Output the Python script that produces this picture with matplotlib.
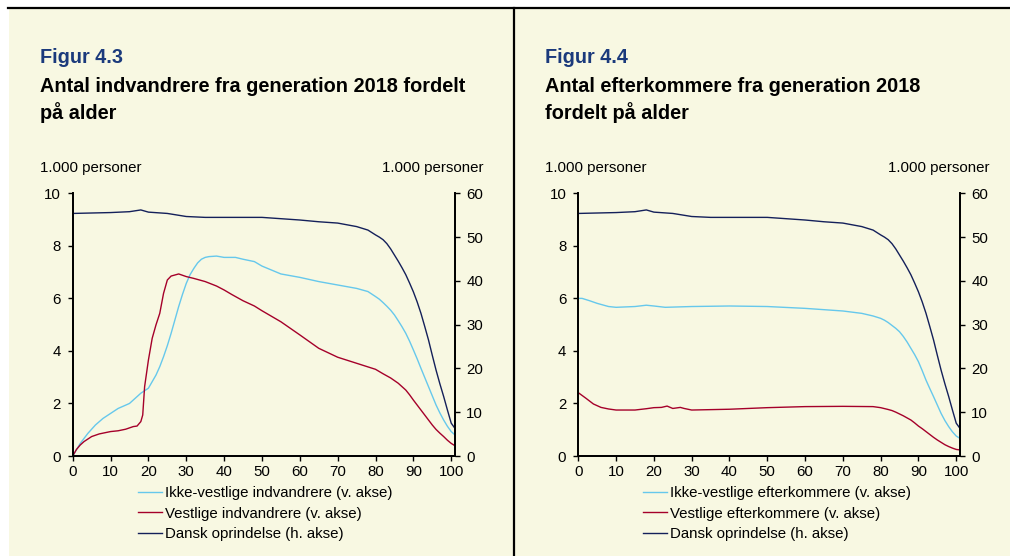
import matplotlib
matplotlib.use("Agg")
import matplotlib.pyplot as plt
from matplotlib.patches import Rectangle
from matplotlib.lines import Line2D

plt.rcParams['font.family'] = ['Liberation Sans', 'DejaVu Sans']

# ---------------- data ----------------
# Dansk oprindelse (right axis, 1.000 personer) - same in both panels
dansk_age = [0, 5, 10, 15, 18, 20, 25, 30, 35, 40, 50, 55, 60, 65, 70, 75, 78, 80, 81, 82, 83, 84, 85, 86, 87, 88, 89, 90,
             91, 92, 93, 94, 95, 96, 97, 98, 99, 100, 101]
dansk_val = [55.4, 55.5, 55.6, 55.8, 56.2, 55.7, 55.4, 54.7, 54.5, 54.5, 54.5, 54.2, 53.9, 53.5, 53.2, 52.4, 51.6, 50.5, 50.0,
             49.4, 48.5, 47.3, 45.9, 44.5, 43.0, 41.4, 39.5, 37.5, 35.2, 32.6, 29.6, 26.5, 23.0, 19.6, 16.5, 13.6, 10.5, 7.5, 6.3]

# Figur 4.3 - indvandrere (left axis)
ikke_ind_age = [0, 2, 4, 6, 8, 10, 12, 15, 16, 18, 20, 22, 23, 24, 25, 26, 27, 28, 29, 30, 31, 32, 33, 34, 35, 36, 38, 40,
                43, 45, 48, 50, 55, 60, 65, 70, 75, 78, 80, 81, 82, 83, 84, 85, 86, 87, 88, 89, 90, 91, 92, 93, 94, 95,
                96, 97, 98, 99, 100, 101]
ikke_ind_val = [0.0, 0.48, 0.86, 1.18, 1.43, 1.62, 1.81, 2.0, 2.13, 2.39, 2.58, 3.08, 3.40, 3.78, 4.20, 4.67, 5.18, 5.69,
                6.15, 6.57, 6.90, 7.14, 7.35, 7.49, 7.56, 7.59, 7.61, 7.56, 7.56, 7.49, 7.40, 7.23, 6.93, 6.80, 6.64, 6.51,
                6.38, 6.26, 6.07, 5.97, 5.84, 5.70, 5.55, 5.37, 5.15, 4.92, 4.67, 4.37, 4.04, 3.70, 3.34, 2.99, 2.64, 2.29,
                1.94, 1.64, 1.37, 1.13, 0.93, 0.80]

vest_ind_age = [0, 1, 2, 3, 5, 7, 10, 12, 14, 16, 17, 18, 18.5, 19, 20, 21, 22, 23, 24, 25, 26, 28, 30, 32, 35, 38, 40, 42,
                45, 48, 50, 55, 60, 65, 70, 75, 80, 82, 84, 86, 88, 89, 90, 91, 92, 93, 94, 95, 96, 97, 98, 99, 100, 101]
vest_ind_val = [0.0, 0.25, 0.42, 0.55, 0.74, 0.84, 0.93, 0.96, 1.02, 1.12, 1.14, 1.31, 1.56, 2.64, 3.65, 4.48, 4.99, 5.43,
                6.19, 6.70, 6.85, 6.93, 6.83, 6.76, 6.64, 6.47, 6.32, 6.15, 5.91, 5.71, 5.53, 5.11, 4.61, 4.10, 3.76, 3.53,
                3.30, 3.13, 2.97, 2.77, 2.51, 2.33, 2.13, 1.94, 1.75, 1.56, 1.37, 1.18, 1.01, 0.87, 0.74, 0.60, 0.48, 0.39]

# Figur 4.4 - efterkommere (left axis)
ikke_eft_age = [0, 1, 3, 5, 8, 10, 15, 18, 20, 23, 30, 40, 50, 60, 70, 75, 78, 80, 81, 82, 83, 84, 85, 86, 87, 88, 89, 90,
                91, 92, 93, 94, 95, 96, 97, 98, 99, 100, 101]
ikke_eft_val = [6.0, 6.0, 5.91, 5.81, 5.69, 5.66, 5.69, 5.74, 5.71, 5.66, 5.69, 5.71, 5.69, 5.62, 5.52, 5.43, 5.33, 5.24,
                5.17, 5.08, 4.97, 4.86, 4.73, 4.55, 4.34, 4.10, 3.86, 3.59, 3.25, 2.89, 2.57, 2.26, 1.94, 1.62, 1.35, 1.12,
                0.92, 0.76, 0.67]

vest_eft_age = [0, 2, 4, 6, 8, 10, 15, 18, 20, 22, 23.5, 25, 27, 28, 30, 40, 50, 60, 70, 78, 80, 82, 83, 84, 85, 86, 87,
                88, 89, 90, 91, 92, 93, 94, 95, 96, 97, 98, 99, 100, 101]
vest_eft_val = [2.41, 2.20, 1.98, 1.85, 1.79, 1.75, 1.75, 1.80, 1.84, 1.85, 1.90, 1.81, 1.85, 1.81, 1.75, 1.78, 1.84, 1.88,
                1.89, 1.88, 1.84, 1.77, 1.73, 1.67, 1.60, 1.53, 1.45, 1.37, 1.26, 1.14, 1.04, 0.93, 0.82, 0.71, 0.61, 0.52,
                0.43, 0.36, 0.30, 0.25, 0.23]

x_ticks = [0, 10, 20, 30, 40, 50, 60, 70, 80, 90, 100]
left_ticks = [0, 2, 4, 6, 8, 10]
right_ticks = [0, 10, 20, 30, 40, 50, 60]

fig_labels = ["Figur 4.3", "Figur 4.4"]
titles = [["Antal indvandrere fra generation 2018 fordelt", "på alder"],
          ["Antal efterkommere fra generation 2018", "fordelt på alder"]]
legend_labels = [["Ikke-vestlige indvandrere (v. akse)", "Vestlige indvandrere (v. akse)", "Dansk oprindelse (h. akse)"],
                 ["Ikke-vestlige efterkommere (v. akse)", "Vestlige efterkommere (v. akse)", "Dansk oprindelse (h. akse)"]]
unit_label = "1.000 personer"

# ---------------- style ----------------
W, H = 1010, 556
BG = "#F8F8E2"
C_LIGHT = "#66C8EC"
C_RED = "#A5002A"
C_NAVY = "#14205A"
C_TITLE = "#1B3A7C"
FS = 10.8
TFS = 14.3

fig = plt.figure(figsize=(W / 100, H / 100), dpi=100)
fig.patch.set_facecolor("white")

def fx(px):
    return px / W

def fy(py):
    return 1 - py / H

fig.add_artist(Rectangle((fx(9), 0), 1 - fx(9), fy(9), transform=fig.transFigure,
                         facecolor=BG, edgecolor="none", zorder=-10))
fig.add_artist(Line2D([fx(8), 1], [fy(8), fy(8)], transform=fig.transFigure, color="black", lw=1.6))
fig.add_artist(Line2D([fx(514), fx(514)], [0, fy(8)], transform=fig.transFigure, color="black", lw=1.6))

panels = [
    dict(x0=72.7, x1=455, ikke=(ikke_ind_age, ikke_ind_val), vest=(vest_ind_age, vest_ind_val), tx=40, ux1=483, lx=138),
    dict(x0=578.3, x1=960, ikke=(ikke_eft_age, ikke_eft_val), vest=(vest_eft_age, vest_eft_val), tx=545, ux1=989, lx=643),
]

top_px, bot_px = 193.3, 456

for i, p in enumerate(panels):
    ax = fig.add_axes([fx(p["x0"]), fy(bot_px), fx(p["x1"] - p["x0"]), (bot_px - top_px) / H])
    ax.set_facecolor("none")
    ax2 = ax.twinx()
    ax2.set_facecolor("none")

    l1, = ax.plot(p["ikke"][0], p["ikke"][1], color=C_LIGHT, lw=1.0)
    l2, = ax.plot(p["vest"][0], p["vest"][1], color=C_RED, lw=1.0)
    l3, = ax2.plot(dansk_age, dansk_val, color=C_NAVY, lw=1.0)

    ax.set_xlim(0, 101)
    ax.set_ylim(0, 10)
    ax2.set_ylim(0, 60)
    ax.set_xticks(x_ticks)
    ax.set_yticks(left_ticks)
    ax2.set_yticks(right_ticks)
    for a in (ax, ax2):
        a.spines["top"].set_visible(False)
        for s in ("left", "right", "bottom"):
            a.spines[s].set_linewidth(1.3)
            a.spines[s].set_color("black")
        a.tick_params(direction="out", length=3.6, width=1.0, labelsize=FS, colors="black", pad=3)
    ax.tick_params(axis="y", pad=5)
    ax2.tick_params(axis="y", pad=4.5)

    # titles
    fig.text(fx(p["tx"]), fy(63), fig_labels[i], fontsize=TFS, fontweight="bold", color=C_TITLE, va="baseline")
    fig.text(fx(p["tx"]), fy(92), titles[i][0], fontsize=TFS, fontweight="bold", color="black", va="baseline")
    fig.text(fx(p["tx"]), fy(119), titles[i][1], fontsize=TFS, fontweight="bold", color="black", va="baseline")
    fig.text(fx(p["tx"]), fy(172), unit_label, fontsize=FS, va="baseline")
    fig.text(fx(p["ux1"]), fy(172), unit_label, fontsize=FS, va="baseline", ha="right")

    ax.legend([l1, l2, l3], legend_labels[i], loc="upper left",
              bbox_to_anchor=(fx(p["lx"]), fy(486)), bbox_transform=fig.transFigure,
              frameon=False, fontsize=FS, handlelength=1.6, handletextpad=0.2,
              labelspacing=0.44, borderpad=0, borderaxespad=0)

fig.savefig("out.png", dpi=100, facecolor=fig.get_facecolor())
